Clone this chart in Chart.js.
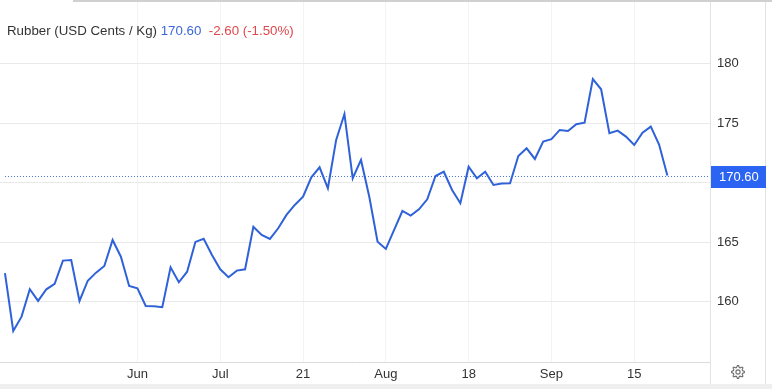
<!DOCTYPE html>
<html lang="en">
<head>
  <meta charset="UTF-8">
  <title>Rubber (USD Cents / Kg)</title>
  <!-- Include Chart.js library -->
  <script src="https://cdn.jsdelivr.net/npm/chart.js"></script>
  <style>
    html, body { margin: 0; padding: 0; background: #fff; }
  </style>
</head>
<body>
  <canvas id="lineChart" width="772" height="389"></canvas>
  <script>
    // Daily prices
    const prices = [
      162.39, 157.54, 158.74, 161.04, 160.06, 161.04, 161.49, 163.45, 163.50, 160.06,
      161.76, 162.44, 163.00, 165.18, 163.78, 161.32, 161.13, 159.64, 159.61, 159.53,
      162.89, 161.63, 162.52, 165.02, 165.29, 163.92, 162.72, 162.05, 162.61, 162.72,
      166.30, 165.60, 165.27, 166.17, 167.29, 168.13, 168.82, 170.45, 171.29, 169.53,
      173.59, 175.77, 170.37, 171.91, 168.82, 165.04, 164.43, 166.03, 167.62, 167.23,
      167.76, 168.60, 170.56, 170.92, 169.39, 168.27, 171.34, 170.37, 170.92, 169.81,
      169.92, 169.95, 172.24, 172.89, 171.99, 173.45, 173.65, 174.43, 174.34, 174.91,
      175.04, 178.71, 177.85, 174.15, 174.37, 173.87, 173.17, 174.20, 174.71, 173.20,
      170.60
    ];
    const tickIndex = [16, 26, 36, 46, 56, 66, 76];
    const tickText = ['Jun', 'Jul', '21', 'Aug', '18', 'Sep', '15'];
    const priceTicks = [160, 165, 170, 175, 180];
    const seriesName = 'Rubber (USD Cents / Kg)';
    const lastPrice = 170.60;
    const change = '-2.60';
    const changePct = '(-1.50%)';

    const FONT = '"Liberation Sans", Arial, sans-serif';

    // draws an outline gear icon
    const drawGear = (ctx, cx, cy) => {
      const teeth = 8, rOut = 6.4, rIn = 4.7;
      ctx.beginPath();
      for (let k = 0; k < teeth * 4; k++) {
        const a = (k - 0.5) * Math.PI * 2 / (teeth * 4);
        const r = (k % 4 < 2) ? rOut : rIn;
        const px = cx + r * Math.cos(a), py = cy + r * Math.sin(a);
        if (k === 0) ctx.moveTo(px, py); else ctx.lineTo(px, py);
      }
      ctx.closePath();
      ctx.stroke();
      ctx.beginPath();
      ctx.arc(cx, cy, 2.1, 0, Math.PI * 2);
      ctx.stroke();
    };

    const overlay = {
      id: 'overlay',
      beforeDatasetsDraw(chart) {
        const { ctx, chartArea, scales } = chart;
        const y = Math.round(scales.y.getPixelForValue(lastPrice)) + 0.5;
        ctx.save();
        ctx.strokeStyle = '#4a6fd0';
        ctx.lineWidth = 1;
        ctx.setLineDash([1, 2]);
        ctx.beginPath();
        ctx.moveTo(scales.x.getPixelForValue(0), y);
        ctx.lineTo(chartArea.right, y);
        ctx.stroke();
        ctx.restore();
      },
      afterDraw(chart) {
        const { ctx, chartArea, scales } = chart;
        ctx.save();
        // frame lines
        ctx.strokeStyle = '#e3e3e3';
        ctx.lineWidth = 1;
        ctx.beginPath();
        ctx.moveTo(chartArea.right + 0.5, 0);
        ctx.lineTo(chartArea.right + 0.5, 384);
        ctx.moveTo(765.5, 0);
        ctx.lineTo(765.5, 384);
        ctx.stroke();
        ctx.fillStyle = '#d0d0d0';
        ctx.fillRect(73, 0, 699, 2);
        ctx.fillStyle = '#efefef';
        ctx.fillRect(0, 384, 772, 5);

        // last price label
        const y = scales.y.getPixelForValue(lastPrice);
        ctx.fillStyle = '#2b63f2';
        ctx.fillRect(chartArea.right + 1, Math.round(y) - 10, 55, 22);
        ctx.fillStyle = '#ffffff';
        ctx.font = '13px ' + FONT;
        ctx.textBaseline = 'middle';
        ctx.textAlign = 'left';
        ctx.fillText(lastPrice.toFixed(2), chartArea.right + 9, Math.round(y) + 1);

        // title line
        let x = 7;
        ctx.font = '13.3px ' + FONT;
        ctx.fillStyle = '#333333';
        ctx.fillText(seriesName, x, 31);
        x += ctx.measureText(seriesName + ' ').width;
        ctx.fillStyle = '#3b68d8';
        ctx.fillText(lastPrice.toFixed(2), x, 31);
        x += ctx.measureText(lastPrice.toFixed(2) + '  ').width;
        ctx.fillStyle = '#e0484b';
        ctx.fillText(change + ' ' + changePct, x, 31);

        // settings icon
        ctx.strokeStyle = '#6e6e6e';
        ctx.lineWidth = 1.1;
        drawGear(ctx, 738, 372);
        ctx.restore();
      }
    };

    const noPad = (s) => {
      s.paddingTop = 0;
      s.paddingBottom = 0;
      s.paddingLeft = 0;
      s.paddingRight = 0;
    };

    const createLineChart = () => {
      const ctx = document.getElementById('lineChart').getContext('2d');
      new Chart(ctx, {
        type: 'line',
        data: {
          datasets: [{
            label: seriesName,
            data: prices.map((v, i) => ({ x: i, y: v })),
            borderColor: '#2f62d8',
            borderWidth: 2,
            pointRadius: 0,
            tension: 0,
            fill: false
          }]
        },
        options: {
          responsive: false,
          animation: false,
          devicePixelRatio: 1,
          layout: { padding: 0 },
          plugins: {
            legend: { display: false },
            tooltip: { enabled: false }
          },
          scales: {
            x: {
              type: 'linear',
              min: -0.6,
              max: 85.15,
              grid: { color: '#f3f3f3', drawTicks: false },
              border: { color: '#dcdcdc' },
              ticks: {
                autoSkip: false,
                maxRotation: 0,
                padding: 5,
                color: '#333',
                font: { family: FONT, size: 13 },
                callback: (v) => tickText[tickIndex.indexOf(v)] || ''
              },
              afterBuildTicks: (s) => { s.ticks = tickIndex.map(v => ({ value: v })); },
              afterFit: (s) => { s.height = 27; noPad(s); }
            },
            y: {
              position: 'right',
              min: 154.93,
              max: 185.35,
              grid: { color: '#e9e9e9', drawTicks: false },
              border: { display: false },
              ticks: {
                padding: 7,
                color: '#333',
                font: { family: FONT, size: 13 }
              },
              afterBuildTicks: (s) => { s.ticks = priceTicks.map(v => ({ value: v })); },
              afterFit: (s) => { s.width = 62; noPad(s); }
            }
          }
        },
        plugins: [overlay]
      });
    };

    window.onload = createLineChart;
  </script>
</body>
</html>
